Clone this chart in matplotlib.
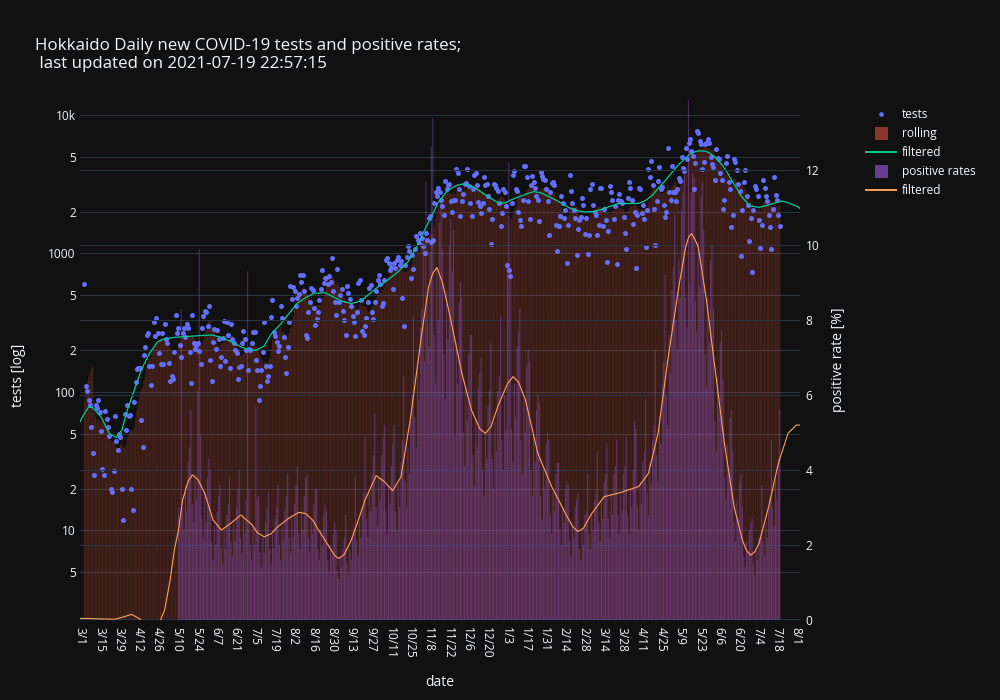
import numpy as np
import pandas as pd
import matplotlib
matplotlib.use("Agg")
import matplotlib.pyplot as plt
from matplotlib.patches import Rectangle

# daily data, one row per week (first day 2020-03-04)
start_date = "2020-03-04"

tests_weeks = [
    [600, 110, 101, 87, 80, 56, 36],
    [25, 81, 77, 87, 72, 52, 28],
    [25, 73, 64, 56, 48, 20, 19],
    [27, 67, 44, 38, 50, 47, 20],
    [12, 69, 53, 80, 67, 68, 20],
    [14, 85, 118, 147, 150, 150, 63],
    [40, 185, 212, 260, 265, 155, 112],
    [155, 320, 255, 340, 265, 190, 160],
    [265, 160, 310, 240, 225, 162, 120],
    [130, 125, 195, 360, 268, 290, 218],
    [180, 265, 290, 250, 310, 290, 195],
    [116, 360, 225, 205, 218, 225, 198],
    [160, 290, 355, 385, 375, 300, 420],
    [170, 120, 230, 285, 205, 280, 240],
    [155, 180, 245, 325, 168, 320, 260],
    [150, 310, 240, 225, 200, 190, 125],
    [152, 155, 225, 275, 240, 200, 145],
    [205, 201, 225, 270, 272, 170, 145],
    [87, 110, 145, 195, 320, 155, 120],
    [130, 155, 350, 460, 270, 255, 230],
    [198, 215, 420, 340, 250, 180, 138],
    [210, 320, 580, 470, 575, 540, 420],
    [480, 510, 700, 620, 700, 540, 260],
    [245, 380, 450, 560, 545, 405, 305],
    [335, 375, 460, 550, 760, 610, 670],
    [660, 600, 690, 620, 925, 540, 450],
    [360, 770, 450, 500, 550, 385, 330],
    [260, 580, 520, 470, 420, 355, 320],
    [255, 380, 610, 640, 460, 275, 260],
    [300, 345, 450, 560, 590, 380, 335],
    [450, 540, 640, 700, 600, 420, 440],
    [640, 900, 925, 850, 760, 800, 550],
    [850, 790, 900, 940, 820, 880, 480],
    [300, 830, 940, 1140, 1040, 660, 980],
    [770, 1080, 1340, 1250, 1200, 1400, 1290],
    [1130, 1000, 1400, 1250, 1800, 1850, 1220],
    [1250, 2300, 2800, 2600, 2950, 2800, 2430],
    [2200, 1900, 3350, 2900, 3100, 3200, 2380],
    [1980, 2430, 2450, 4100, 3800, 2900, 1850],
    [2400, 2700, 3200, 3250, 4050, 3050, 2300],
    [1850, 2900, 3700, 3800, 3100, 2350, 2200],
    [1960, 2300, 3550, 3100, 3200, 2580, 2100],
    [1180, 1780, 3200, 3100, 2950, 2850, 2300],
    [1590, 1960, 2900, 2800, 2200, 830, 760],
    [690, 2300, 3700, 3950, 2900, 2850, 1980],
    [1750, 1580, 2430, 4300, 4300, 3550, 2380],
    [1780, 3100, 3600, 3300, 2950, 2600, 2430],
    [1720, 3900, 3600, 3450, 3400, 2900, 2400],
    [1370, 2800, 3250, 3300, 3100, 1610, 1050],
    [1580, 1880, 2580, 2300, 1800, 2070, 860],
    [1610, 3700, 2850, 2300, 2050, 1800, 980],
    [1500, 1750, 1820, 2520, 2240, 1380, 1800],
    [990, 1350, 2900, 3200, 2240, 1980, 1900],
    [1370, 1600, 2950, 2950, 1580, 2100, 1740],
    [870, 1450, 3050, 2800, 2430, 1780, 2200],
    [840, 2430, 2700, 2380, 2300, 1820, 1400],
    [1080, 2520, 3280, 2950, 2430, 1640, 2000],
    [790, 1900, 2950, 2900, 1960, 2240, 1780],
    [1120, 2070, 4050, 3550, 4660, 3100, 2080],
    [1150, 2380, 3350, 4240, 2900, 3000, 2240],
    [1820, 1980, 5800, 2800, 2450, 4300, 2800],
    [2800, 2380, 2900, 3500, 3350, 5000, 4150],
    [3950, 5800, 4800, 6300, 6700, 5500, 5100],
    [2900, 4500, 7700, 7450, 6500, 6200, 4050],
    [4600, 6200, 6300, 6700, 6300, 5000, 4400],
    [4240, 3400, 5700, 4900, 4800, 3800, 3400],
    [2100, 2450, 4500, 5100, 3300, 2900, 1560],
    [1900, 4850, 4600, 4000, 3200, 2850, 960],
    [2070, 3300, 4000, 2600, 2240, 1230, 1800],
    [740, 2070, 3050, 2900, 2600, 1750, 1100],
    [1600, 3400, 2950, 2580, 2380, 1900, 1550],
    [1070, 2100, 3550, 2650, 2450, 1900, 1580],
]

rate_weeks = [
    [0, 0, 0, 0, 0, 0, 0],
    [0, 0, 0, 0, 0, 0, 0],
    [0, 0, 0, 0, 0, 0, 0],
    [0, 0, 0, 0, 0, 0, 0],
    [0, 0, 0, 0, 0, 0, 0],
    [0, 0, 0, 0, 0, 0, 0],
    [0, 0, 0, 0, 0, 0, 0],
    [0, 0, 0, 0, 0, 0, 0],
    [0, 0, 0, 0, 0, 0, 0],
    [0, 0, 0, 0, 0, 3.0, 2.6],
    [8.3, 3.0, 2.4, 3.6, 2.9, 4.2, 4.6],
    [5.6, 3.1, 2.6, 3.9, 3.2, 6.1, 9.9],
    [4.9, 2.7, 2.2, 3.4, 2.6, 3.8, 4.3],
    [4.0, 2.1, 1.6, 2.5, 2.0, 2.9, 3.3],
    [3.6, 1.9, 1.5, 2.4, 1.9, 2.8, 3.1],
    [3.8, 2.1, 1.7, 2.6, 2.1, 3.0, 3.5],
    [4.0, 2.2, 1.8, 2.8, 2.3, 3.2, 9.3],
    [3.5, 2.0, 1.6, 2.5, 2.0, 5.7, 3.2],
    [3.3, 1.8, 1.4, 2.2, 1.8, 2.6, 3.0],
    [3.4, 1.9, 1.5, 2.3, 1.9, 2.7, 3.0],
    [3.6, 2.0, 1.6, 2.5, 2.1, 2.9, 3.3],
    [3.9, 2.2, 1.8, 2.7, 2.2, 3.1, 3.6],
    [4.1, 2.3, 1.9, 2.9, 2.4, 3.3, 3.8],
    [3.9, 2.2, 1.8, 2.7, 2.3, 3.1, 3.5],
    [3.5, 1.9, 1.6, 2.4, 2.0, 2.8, 3.1],
    [2.9, 1.6, 1.3, 2.0, 1.7, 2.3, 2.6],
    [2.4, 1.3, 1.1, 1.7, 1.4, 1.9, 2.2],
    [2.8, 1.5, 1.2, 1.9, 1.6, 2.2, 2.5],
    [3.8, 2.1, 1.7, 2.6, 2.2, 3.0, 3.4],
    [4.9, 2.7, 2.2, 3.4, 2.9, 3.9, 4.4],
    [5.5, 3.0, 2.5, 3.8, 3.2, 4.4, 4.9],
    [5.2, 2.9, 2.3, 3.6, 3.1, 4.1, 4.7],
    [5.2, 2.9, 2.4, 3.6, 3.0, 4.2, 4.8],
    [6.5, 3.7, 3.0, 4.6, 3.9, 5.3, 6.0],
    [8.1, 5.4, 4.6, 6.9, 5.9, 7.8, 8.3],
    [10.2, 6.9, 11.7, 8.6, 7.3, 9.8, 12.6],
    [13.4, 7.6, 6.3, 9.4, 8.0, 10.6, 11.2],
    [9.9, 7.1, 5.9, 8.8, 7.5, 10.0, 10.7],
    [9.3, 10.4, 4.9, 7.4, 6.3, 8.5, 9.0],
    [8.6, 5.0, 4.1, 6.2, 5.3, 7.1, 7.6],
    [7.6, 4.4, 3.6, 5.4, 4.6, 6.2, 6.6],
    [7.0, 4.0, 3.3, 5.0, 4.3, 5.7, 6.1],
    [7.4, 4.3, 3.5, 5.3, 4.5, 6.1, 6.5],
    [8.1, 4.8, 4.0, 6.0, 5.1, 9.5, 12.2],
    [9.4, 5.1, 4.2, 6.3, 5.4, 7.3, 7.7],
    [8.3, 4.8, 3.9, 5.9, 5.0, 6.8, 7.2],
    [6.9, 4.0, 3.3, 4.9, 4.2, 5.6, 6.0],
    [5.8, 3.3, 2.7, 4.1, 3.5, 4.7, 5.0],
    [4.8, 2.8, 2.3, 3.4, 2.9, 3.9, 4.2],
    [4.2, 2.4, 2.0, 3.0, 2.6, 3.5, 3.7],
    [3.6, 2.1, 1.7, 2.6, 2.2, 3.0, 3.2],
    [3.4, 1.9, 1.6, 2.4, 2.0, 2.8, 2.9],
    [3.9, 2.3, 1.9, 2.8, 2.4, 3.2, 3.4],
    [4.5, 2.6, 2.1, 3.2, 2.7, 3.7, 3.9],
    [4.7, 2.7, 2.2, 3.4, 2.8, 3.9, 4.1],
    [4.8, 2.8, 2.3, 3.4, 2.9, 3.9, 4.1],
    [4.9, 2.8, 2.3, 3.5, 3.0, 4.0, 5.3],
    [5.1, 3.0, 2.4, 3.7, 3.1, 4.2, 4.5],
    [5.9, 3.4, 2.8, 4.2, 3.6, 4.8, 5.2],
    [7.2, 4.4, 3.7, 5.4, 4.7, 6.3, 6.9],
    [9.2, 6.0, 5.2, 7.6, 6.6, 8.8, 9.4],
    [10.8, 8.0, 7.2, 9.6, 8.6, 10.9, 11.4],
    [12.0, 8.6, 7.8, 13.9, 9.0, 11.4, 11.9],
    [11.8, 8.5, 7.7, 10.1, 8.9, 11.3, 11.7],
    [10.4, 7.1, 6.2, 8.6, 7.4, 9.6, 10.0],
    [8.3, 5.3, 4.5, 6.5, 5.6, 7.4, 7.7],
    [6.4, 3.8, 3.2, 4.7, 4.0, 5.4, 5.6],
    [4.5, 2.6, 2.1, 3.2, 2.7, 3.7, 3.9],
    [3.0, 1.7, 1.4, 2.1, 1.8, 2.4, 2.6],
    [2.7, 1.5, 1.2, 1.9, 1.6, 2.2, 2.3],
    [3.6, 2.1, 1.7, 2.6, 2.2, 3.0, 3.3],
    [4.8, 3.0, 2.5, 3.7, 3.2, 4.3, 5.6],
]

# filtered curves (read at points along the smooth lines)
tests_filt_dates = [
    "2020-02-28", "2020-03-04", "2020-03-07", "2020-03-10", "2020-03-16", "2020-03-22",
    "2020-03-27", "2020-03-31", "2020-04-04", "2020-04-09", "2020-04-14", "2020-04-20",
    "2020-04-26", "2020-04-30", "2020-05-05", "2020-05-10", "2020-05-16", "2020-05-25",
    "2020-06-04", "2020-06-11", "2020-06-18", "2020-06-25", "2020-06-30", "2020-07-06",
    "2020-07-12", "2020-07-17", "2020-07-24", "2020-07-30", "2020-08-05", "2020-08-11",
    "2020-08-17", "2020-08-25", "2020-09-01", "2020-09-07", "2020-09-13", "2020-09-20",
    "2020-09-25", "2020-09-30", "2020-10-05", "2020-10-10", "2020-10-17", "2020-10-24",
    "2020-10-31", "2020-11-05", "2020-11-10", "2020-11-15", "2020-11-22", "2020-11-28",
    "2020-12-03", "2020-12-07", "2020-12-11", "2020-12-16", "2020-12-21", "2020-12-29",
    "2021-01-03", "2021-01-07", "2021-01-14", "2021-01-19", "2021-01-23", "2021-01-28",
    "2021-02-02", "2021-02-08", "2021-02-13", "2021-02-18", "2021-02-23", "2021-03-01",
    "2021-03-07", "2021-03-13", "2021-03-25", "2021-04-09", "2021-04-14", "2021-04-19",
    "2021-04-23", "2021-04-28", "2021-05-03", "2021-05-08", "2021-05-12", "2021-05-16",
    "2021-05-20", "2021-05-24", "2021-05-28", "2021-05-31", "2021-06-04", "2021-06-08",
    "2021-06-12", "2021-06-15", "2021-06-19", "2021-06-22", "2021-06-26", "2021-06-29",
    "2021-07-05", "2021-07-13", "2021-07-17", "2021-07-21", "2021-07-26", "2021-08-02",
    "2021-08-04",
]
tests_filt = [
    57, 70, 78, 77, 66, 50,
    47, 53, 74, 103, 144, 190,
    231, 240, 246, 249, 251, 255,
    258, 248, 231, 212, 203, 200,
    215, 262, 310, 370, 437, 480,
    516, 521, 480, 450, 435, 455,
    500, 550, 600, 650, 740, 870,
    1150, 1478, 1846, 2350, 2870, 3100,
    3180, 3130, 3000, 2780, 2572, 2302,
    2330, 2450, 2600, 2720, 2795, 2750,
    2600, 2430, 2270, 2130, 2039, 1995,
    2010, 2080, 2290, 2302, 2420, 2642,
    2950, 3350, 3850, 4400, 4800, 5200,
    5450, 5520, 5450, 5250, 4870, 4400,
    3850, 3400, 2950, 2600, 2350, 2199,
    2154, 2260, 2330, 2394, 2330, 2177,
    2100,
]

rate_filt_dates = [
    "2020-02-28", "2020-03-16", "2020-03-26", "2020-04-01", "2020-04-07", "2020-04-13",
    "2020-04-20", "2020-04-26", "2020-04-28", "2020-05-01", "2020-05-05", "2020-05-08",
    "2020-05-11", "2020-05-14", "2020-05-18", "2020-05-21", "2020-05-25", "2020-05-30",
    "2020-06-05", "2020-06-11", "2020-06-18", "2020-06-25", "2020-07-03", "2020-07-07",
    "2020-07-12", "2020-07-17", "2020-07-22", "2020-07-30", "2020-08-06", "2020-08-11",
    "2020-08-16", "2020-08-20", "2020-08-25", "2020-09-01", "2020-09-04", "2020-09-08",
    "2020-09-13", "2020-09-18", "2020-09-23", "2020-10-01", "2020-10-07", "2020-10-13",
    "2020-10-19", "2020-10-26", "2020-11-03", "2020-11-08", "2020-11-11", "2020-11-14",
    "2020-11-18", "2020-11-23", "2020-12-02", "2020-12-09", "2020-12-15", "2020-12-19",
    "2020-12-23", "2020-12-28", "2021-01-04", "2021-01-08", "2021-01-12", "2021-01-17",
    "2021-01-26", "2021-02-05", "2021-02-15", "2021-02-20", "2021-02-24", "2021-02-28",
    "2021-03-06", "2021-03-15", "2021-03-25", "2021-04-09", "2021-04-16", "2021-04-23",
    "2021-04-30", "2021-05-08", "2021-05-13", "2021-05-15", "2021-05-17", "2021-05-19",
    "2021-05-22", "2021-05-28", "2021-06-03", "2021-06-10", "2021-06-17", "2021-06-23",
    "2021-06-26", "2021-06-29", "2021-07-02", "2021-07-05", "2021-07-12", "2021-07-19",
    "2021-07-26", "2021-08-01", "2021-08-04",
]
rate_filt = [
    0.045, 0.03, 0.02, 0.08, 0.15, 0.03,
    -0.25, -0.2, 0.0, 0.27, 1.07, 1.87,
    2.4, 3.2, 3.7, 3.87, 3.75, 3.38,
    2.67, 2.4, 2.58, 2.8, 2.55, 2.33,
    2.22, 2.3, 2.49, 2.72, 2.87, 2.84,
    2.67, 2.42, 2.13, 1.72, 1.64, 1.75,
    2.13, 2.65, 3.2, 3.85, 3.69, 3.45,
    3.82, 5.42, 7.64, 8.89, 9.25, 9.4,
    9.0, 8.18, 6.58, 5.6, 5.1, 4.98,
    5.15, 5.69, 6.3, 6.49, 6.35, 5.87,
    4.44, 3.56, 2.84, 2.5, 2.36, 2.45,
    2.84, 3.29, 3.38, 3.56, 3.91, 4.98,
    6.93, 8.89, 9.96, 10.2, 10.31, 10.2,
    9.96, 8.53, 6.76, 4.71, 3.02, 2.13,
    1.85, 1.73, 1.82, 2.04, 3.02, 4.18,
    4.98, 5.2, 5.2,
]

tick_dates = pd.date_range("2020-03-01", "2021-08-01", freq="14D")
log_ticks = [5, 10, 20, 50, 100, 200, 500, 1000, 2000, 5000, 10000]
log_labels = ["5", "10", "2", "5", "100", "2", "5", "1000", "2", "5", "10k"]

tests = np.array(tests_weeks, dtype=float).ravel()
rates = np.array(rate_weeks, dtype=float).ravel()
dates = pd.date_range(start_date, periods=len(tests), freq="D")
rolling = pd.Series(tests).rolling(7, min_periods=1).sum().values / 7

bg = "#111111"
gridc = "#283442"
txt = "#f2f5fa"
plt.rcParams["font.family"] = ["Open Sans", "DejaVu Sans"]

fig = plt.figure(figsize=(10, 7), dpi=100, facecolor=bg)
ax = fig.add_axes([0.08, 80 / 700, 0.72, 520 / 700])
ax.set_facecolor(bg)
ax.set_yscale("log")
ax2 = ax.twinx()

ax.bar(dates, rolling - 1, bottom=1, width=0.85, color="#EF553B", alpha=0.24,
       linewidth=0, snap=False, zorder=2)
ax.plot(dates, tests, "o", ms=3.6, color="#636efa", mew=0, zorder=3)
ax.plot(pd.to_datetime(tests_filt_dates), tests_filt, color="#00cc96", lw=0.9, zorder=4)

ax2.bar(dates, rates, width=0.85, color="#ab63fa", alpha=0.33,
        linewidth=0, snap=False, zorder=2)
ax2.plot(pd.to_datetime(rate_filt_dates), rate_filt, color="#FFA15A", lw=0.8, zorder=3)

ax.set_xlim(pd.Timestamp("2020-02-29 18:00"), pd.Timestamp("2021-08-03 16:00"))
ax.set_ylim(2.258, 12833)
ax2.set_ylim(0, 13.87)

ax.set_yticks(log_ticks)
ax.set_yticklabels(log_labels)
ax.yaxis.set_minor_locator(matplotlib.ticker.NullLocator())
ax2.set_yticks([0, 2, 4, 6, 8, 10, 12])
ax.set_xticks(tick_dates)
ax.set_xticklabels([f"{d.month}/{d.day}" for d in tick_dates], rotation=-90,
                   ha="center", va="top")

ax.set_axisbelow(True)
ax2.set_axisbelow(True)
ax.yaxis.grid(True, color=gridc, lw=0.75)
ax2.yaxis.grid(True, color=gridc, lw=0.75)
ax2.axhline(0, color=gridc, lw=1.5, zorder=1)

for a in (ax, ax2):
    for s in a.spines.values():
        s.set_visible(False)
ax.tick_params(axis="y", length=0, colors=txt, labelsize=8.6, pad=3)
ax.tick_params(axis="x", length=0, colors=txt, labelsize=8.6, pad=5)
ax2.tick_params(axis="y", length=0, colors=txt, labelsize=8.6, pad=4)

fig.text(0.035, 1 - 38 / 700,
         "Hokkaido Daily new COVID-19 tests and positive rates;\n last updated on 2021-07-19 22:57:15",
         color=txt, fontsize=12.2, va="top", ha="left", linespacing=1.18)
fig.text(0.44, 1 - 683 / 700, "date", color=txt, fontsize=10, ha="center", va="center")
fig.text(0.018, 1 - 375 / 700, "tests [log]", color=txt, fontsize=10, rotation=90,
         ha="center", va="center")
fig.text(0.838, 1 - 360 / 700, "positive rate [%]", color=txt, fontsize=10, rotation=90,
         ha="center", va="center")

# legend drawn in pixel coordinates
leg = fig.add_axes([0, 0, 1, 1])
leg.set_xlim(0, 1000)
leg.set_ylim(700, 0)
leg.axis("off")
leg.patch.set_alpha(0)
leg.plot([881], [114], "o", ms=3.4, color="#636efa", mew=0)
leg.add_patch(Rectangle((875, 127), 13, 13, facecolor="#EF553B", alpha=0.55, lw=0))
leg.plot([866, 896], [152, 152], color="#00cc96", lw=1.4)
leg.add_patch(Rectangle((875, 165), 13, 13, facecolor="#ab63fa", alpha=0.55, lw=0))
leg.plot([866, 896], [190, 190], color="#FFA15A", lw=1.4)
for yy, name in zip([114, 133, 152, 171, 190],
                    ["tests", "rolling", "filtered", "positive rates", "filtered"]):
    leg.text(902, yy, name, color=txt, fontsize=8.6, va="center", ha="left")

fig.savefig("out.png", dpi=100, facecolor=bg)
